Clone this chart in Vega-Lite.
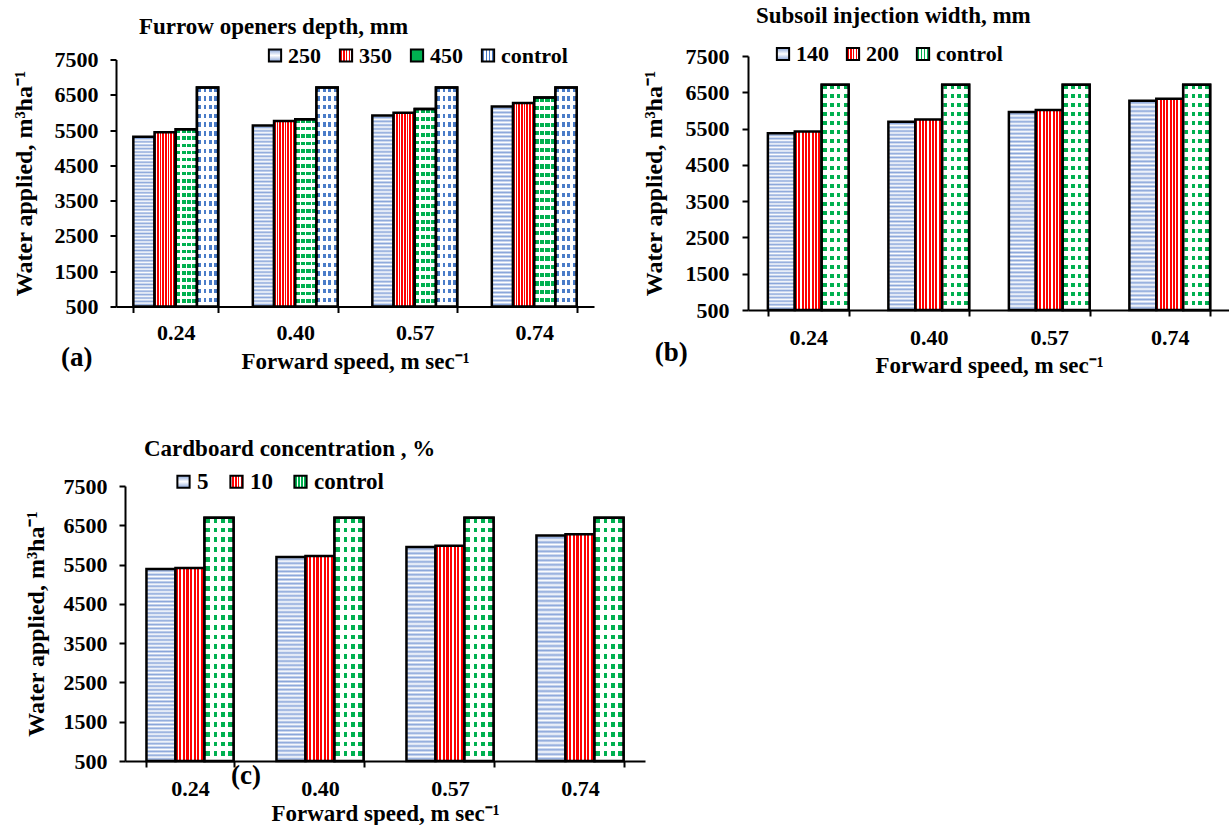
{
  "$schema": "https://vega.github.io/schema/vega-lite/v6.json",
  "background": "white",
  "padding": {"left": 12, "top": 5, "right": 0, "bottom": 0},
  "bounds": "flush",
  "spacing": 430,
  "resolve": {"scale": {"x": "independent", "y": "independent", "xOffset": "independent", "fill": "independent"}, "legend": {"fill": "independent"}},
  "config": {
    "font": "Liberation Serif",
    "view": {"stroke": null},
    "axis": {"labelFont": "Liberation Serif", "labelFontWeight": "bold", "labelColor": "black", "titleFont": "Liberation Serif", "titleFontWeight": "bold", "titleColor": "black", "domainColor": "black", "domainWidth": 2, "tickColor": "black", "tickWidth": 2, "tickSize": 6, "grid": false},
    "legend": {"labelFont": "Liberation Serif", "labelFontWeight": "bold", "labelColor": "black", "labelFontSize": 22, "symbolType": "square", "symbolSize": 150, "symbolStrokeColor": "black", "symbolStrokeWidth": 2, "labelOffset": 2, "direction": "horizontal", "orient": "none"},
    "title": {"font": "Liberation Serif", "fontWeight": "bold", "fontSize": 23, "color": "black", "anchor": "start", "frame": "group"}
  },
  "vconcat": [
    {
      "bounds": "flush",
      "spacing": 154,
      "center": true,
      "resolve": {"scale": {"x": "independent", "y": "independent", "xOffset": "independent", "fill": "independent"}, "legend": {"fill": "independent"}},
      "hconcat": [
        {
          "width": 478,
          "height": 247,
          "title": {"text": "Furrow openers depth, mm", "dx": 23, "offset": 6},
          "data": {"values": [
            {"speed": "0.24", "s": "250", "v": 5310}, {"speed": "0.24", "s": "350", "v": 5440}, {"speed": "0.24", "s": "450", "v": 5520}, {"speed": "0.24", "s": "control", "v": 6710},
            {"speed": "0.40", "s": "250", "v": 5630}, {"speed": "0.40", "s": "350", "v": 5760}, {"speed": "0.40", "s": "450", "v": 5810}, {"speed": "0.40", "s": "control", "v": 6710},
            {"speed": "0.57", "s": "250", "v": 5910}, {"speed": "0.57", "s": "350", "v": 5990}, {"speed": "0.57", "s": "450", "v": 6100}, {"speed": "0.57", "s": "control", "v": 6710},
            {"speed": "0.74", "s": "250", "v": 6170}, {"speed": "0.74", "s": "350", "v": 6270}, {"speed": "0.74", "s": "450", "v": 6420}, {"speed": "0.74", "s": "control", "v": 6710}
          ]},
          "encoding": {
            "x": {"field": "speed", "type": "nominal", "scale": {"paddingInner": 0.29, "paddingOuter": 0.145}, "axis": {"title": "Forward speed, m sec⁻¹", "labelAngle": 0, "labelFont": "Liberation Serif", "labelFontSize": 22, "labelPadding": 10, "titleFont": "Liberation Serif", "titleFontSize": 23, "titlePadding": 7, "tickBand": "extent"}},
            "y": {"field": "v", "type": "quantitative", "scale": {"domain": [500, 7500], "nice": false, "zero": false}, "axis": {"title": "Water applied, m³ha⁻¹", "format": "d", "values": [500, 1500, 2500, 3500, 4500, 5500, 6500, 7500], "labelFont": "Liberation Serif", "labelFontSize": 22, "labelPadding": 12, "titleFont": "Liberation Serif", "titleFontSize": 24, "titlePadding": 18}}
          },
          "layer": [
            {
              "mark": {"type": "bar", "stroke": "black", "strokeWidth": 2.5},
              "encoding": {
                "xOffset": {"field": "s", "type": "nominal", "scale": {"domain": ["250", "350", "450", "control"], "paddingInner": 0, "paddingOuter": 0}},
                "y2": {"datum": 500},
                "fill": {"field": "s", "type": "nominal", "scale": {"domain": ["250", "350", "450", "control"], "range": [
                  {"expr": "{gradient:'linear',x1:0,y1:0,x2:0,y2:1,stops:[{offset:0,color:'#fff'},{offset:0.01,color:'#8aa6da'},{offset:0.02,color:'#fff'},{offset:0.03,color:'#8aa6da'},{offset:0.04,color:'#fff'},{offset:0.05,color:'#8aa6da'},{offset:0.06,color:'#fff'},{offset:0.07,color:'#8aa6da'},{offset:0.08,color:'#fff'},{offset:0.09,color:'#8aa6da'},{offset:0.1,color:'#fff'},{offset:0.11,color:'#8aa6da'},{offset:0.12,color:'#fff'},{offset:0.13,color:'#8aa6da'},{offset:0.14,color:'#fff'},{offset:0.15,color:'#8aa6da'},{offset:0.16,color:'#fff'},{offset:0.17,color:'#8aa6da'},{offset:0.18,color:'#fff'},{offset:0.19,color:'#8aa6da'},{offset:0.2,color:'#fff'},{offset:0.21,color:'#8aa6da'},{offset:0.22,color:'#fff'},{offset:0.23,color:'#8aa6da'},{offset:0.24,color:'#fff'},{offset:0.25,color:'#8aa6da'},{offset:0.26,color:'#fff'},{offset:0.27,color:'#8aa6da'},{offset:0.28,color:'#fff'},{offset:0.29,color:'#8aa6da'},{offset:0.3,color:'#fff'},{offset:0.31,color:'#8aa6da'},{offset:0.32,color:'#fff'},{offset:0.33,color:'#8aa6da'},{offset:0.34,color:'#fff'},{offset:0.35,color:'#8aa6da'},{offset:0.36,color:'#fff'},{offset:0.37,color:'#8aa6da'},{offset:0.38,color:'#fff'},{offset:0.39,color:'#8aa6da'},{offset:0.4,color:'#fff'},{offset:0.41,color:'#8aa6da'},{offset:0.42,color:'#fff'},{offset:0.43,color:'#8aa6da'},{offset:0.44,color:'#fff'},{offset:0.45,color:'#8aa6da'},{offset:0.46,color:'#fff'},{offset:0.47,color:'#8aa6da'},{offset:0.48,color:'#fff'},{offset:0.49,color:'#8aa6da'},{offset:0.5,color:'#fff'},{offset:0.51,color:'#8aa6da'},{offset:0.52,color:'#fff'},{offset:0.53,color:'#8aa6da'},{offset:0.54,color:'#fff'},{offset:0.55,color:'#8aa6da'},{offset:0.56,color:'#fff'},{offset:0.57,color:'#8aa6da'},{offset:0.58,color:'#fff'},{offset:0.59,color:'#8aa6da'},{offset:0.6,color:'#fff'},{offset:0.61,color:'#8aa6da'},{offset:0.62,color:'#fff'},{offset:0.63,color:'#8aa6da'},{offset:0.64,color:'#fff'},{offset:0.65,color:'#8aa6da'},{offset:0.66,color:'#fff'},{offset:0.67,color:'#8aa6da'},{offset:0.68,color:'#fff'},{offset:0.69,color:'#8aa6da'},{offset:0.7,color:'#fff'},{offset:0.71,color:'#8aa6da'},{offset:0.72,color:'#fff'},{offset:0.73,color:'#8aa6da'},{offset:0.74,color:'#fff'},{offset:0.75,color:'#8aa6da'},{offset:0.76,color:'#fff'},{offset:0.77,color:'#8aa6da'},{offset:0.78,color:'#fff'},{offset:0.79,color:'#8aa6da'},{offset:0.8,color:'#fff'},{offset:0.81,color:'#8aa6da'},{offset:0.82,color:'#fff'},{offset:0.83,color:'#8aa6da'},{offset:0.84,color:'#fff'},{offset:0.85,color:'#8aa6da'},{offset:0.86,color:'#fff'},{offset:0.87,color:'#8aa6da'},{offset:0.88,color:'#fff'},{offset:0.89,color:'#8aa6da'},{offset:0.9,color:'#fff'},{offset:0.91,color:'#8aa6da'},{offset:0.92,color:'#fff'},{offset:0.93,color:'#8aa6da'},{offset:0.94,color:'#fff'},{offset:0.95,color:'#8aa6da'},{offset:0.96,color:'#fff'},{offset:0.97,color:'#8aa6da'},{offset:0.98,color:'#fff'},{offset:0.99,color:'#8aa6da'},{offset:1,color:'#fff'}]}"},
                  {"expr": "{gradient:'linear',x1:0,y1:0,x2:1,y2:0,stops:[{offset:0,color:'#f00'},{offset:0.075,color:'#f00'},{offset:0.075,color:'#fff'},{offset:0.125,color:'#fff'},{offset:0.125,color:'#f00'},{offset:0.2,color:'#f00'},{offset:0.2,color:'#fff'},{offset:0.25,color:'#fff'},{offset:0.25,color:'#f00'},{offset:0.325,color:'#f00'},{offset:0.325,color:'#fff'},{offset:0.375,color:'#fff'},{offset:0.375,color:'#f00'},{offset:0.45,color:'#f00'},{offset:0.45,color:'#fff'},{offset:0.5,color:'#fff'},{offset:0.5,color:'#f00'},{offset:0.575,color:'#f00'},{offset:0.575,color:'#fff'},{offset:0.625,color:'#fff'},{offset:0.625,color:'#f00'},{offset:0.7,color:'#f00'},{offset:0.7,color:'#fff'},{offset:0.75,color:'#fff'},{offset:0.75,color:'#f00'},{offset:0.825,color:'#f00'},{offset:0.825,color:'#fff'},{offset:0.875,color:'#fff'},{offset:0.875,color:'#f00'},{offset:0.95,color:'#f00'},{offset:0.95,color:'#fff'},{offset:1,color:'#fff'}]}"},
                  {"expr": "{gradient:'linear',x1:0,y1:0,x2:1,y2:0,stops:[{offset:0,color:'#fff'},{offset:0.03,color:'#fff'},{offset:0.03,color:'#00b050'},{offset:0.22,color:'#00b050'},{offset:0.22,color:'#fff'},{offset:0.28,color:'#fff'},{offset:0.28,color:'#00b050'},{offset:0.47,color:'#00b050'},{offset:0.47,color:'#fff'},{offset:0.53,color:'#fff'},{offset:0.53,color:'#00b050'},{offset:0.72,color:'#00b050'},{offset:0.72,color:'#fff'},{offset:0.78,color:'#fff'},{offset:0.78,color:'#00b050'},{offset:0.97,color:'#00b050'},{offset:0.97,color:'#fff'},{offset:1,color:'#fff'}]}"},
                  {"expr": "{gradient:'linear',x1:0,y1:0,x2:1,y2:0,stops:[{offset:0,color:'#fff'},{offset:0.06,color:'#fff'},{offset:0.06,color:'#4a7cc8'},{offset:0.19,color:'#4a7cc8'},{offset:0.19,color:'#fff'},{offset:0.31,color:'#fff'},{offset:0.31,color:'#4a7cc8'},{offset:0.44,color:'#4a7cc8'},{offset:0.44,color:'#fff'},{offset:0.56,color:'#fff'},{offset:0.56,color:'#4a7cc8'},{offset:0.69,color:'#4a7cc8'},{offset:0.69,color:'#fff'},{offset:0.81,color:'#fff'},{offset:0.81,color:'#4a7cc8'},{offset:0.94,color:'#4a7cc8'},{offset:0.94,color:'#fff'},{offset:1,color:'#fff'}]}"}
                ]}, "legend": {"title": null, "legendX": 148, "legendY": -15, "columnPadding": 14, "labelFont": "Liberation Serif", "labelFontSize": 22}}
              }
            },
            {
              "transform": [{"filter": "datum.s === 'control' || datum.s === '450'"}],
              "mark": {"type": "bar", "stroke": "black", "strokeWidth": 2.5, "fill": {"gradient": "linear", "x1": 0, "y1": 0, "x2": 0, "y2": 1, "stops": [
                {"offset": 0, "color": "rgba(255,255,255,0)"}, {"offset": 0.02, "color": "rgba(255,255,255,0)"}, {"offset": 0.02, "color": "#fff"}, {"offset": 0.04, "color": "#fff"},
                {"offset": 0.04, "color": "rgba(255,255,255,0)"}, {"offset": 0.06, "color": "rgba(255,255,255,0)"}, {"offset": 0.06, "color": "#fff"}, {"offset": 0.08, "color": "#fff"},
                {"offset": 0.08, "color": "rgba(255,255,255,0)"}, {"offset": 0.1, "color": "rgba(255,255,255,0)"}, {"offset": 0.1, "color": "#fff"}, {"offset": 0.12, "color": "#fff"},
                {"offset": 0.12, "color": "rgba(255,255,255,0)"}, {"offset": 0.14, "color": "rgba(255,255,255,0)"}, {"offset": 0.14, "color": "#fff"}, {"offset": 0.16, "color": "#fff"},
                {"offset": 0.16, "color": "rgba(255,255,255,0)"}, {"offset": 0.18, "color": "rgba(255,255,255,0)"}, {"offset": 0.18, "color": "#fff"}, {"offset": 0.2, "color": "#fff"},
                {"offset": 0.2, "color": "rgba(255,255,255,0)"}, {"offset": 0.22, "color": "rgba(255,255,255,0)"}, {"offset": 0.22, "color": "#fff"}, {"offset": 0.24, "color": "#fff"},
                {"offset": 0.24, "color": "rgba(255,255,255,0)"}, {"offset": 0.26, "color": "rgba(255,255,255,0)"}, {"offset": 0.26, "color": "#fff"}, {"offset": 0.28, "color": "#fff"},
                {"offset": 0.28, "color": "rgba(255,255,255,0)"}, {"offset": 0.3, "color": "rgba(255,255,255,0)"}, {"offset": 0.3, "color": "#fff"}, {"offset": 0.32, "color": "#fff"},
                {"offset": 0.32, "color": "rgba(255,255,255,0)"}, {"offset": 0.34, "color": "rgba(255,255,255,0)"}, {"offset": 0.34, "color": "#fff"}, {"offset": 0.36, "color": "#fff"},
                {"offset": 0.36, "color": "rgba(255,255,255,0)"}, {"offset": 0.38, "color": "rgba(255,255,255,0)"}, {"offset": 0.38, "color": "#fff"}, {"offset": 0.4, "color": "#fff"},
                {"offset": 0.4, "color": "rgba(255,255,255,0)"}, {"offset": 0.42, "color": "rgba(255,255,255,0)"}, {"offset": 0.42, "color": "#fff"}, {"offset": 0.44, "color": "#fff"},
                {"offset": 0.44, "color": "rgba(255,255,255,0)"}, {"offset": 0.46, "color": "rgba(255,255,255,0)"}, {"offset": 0.46, "color": "#fff"}, {"offset": 0.48, "color": "#fff"},
                {"offset": 0.48, "color": "rgba(255,255,255,0)"}, {"offset": 0.5, "color": "rgba(255,255,255,0)"}, {"offset": 0.5, "color": "#fff"}, {"offset": 0.52, "color": "#fff"},
                {"offset": 0.52, "color": "rgba(255,255,255,0)"}, {"offset": 0.54, "color": "rgba(255,255,255,0)"}, {"offset": 0.54, "color": "#fff"}, {"offset": 0.56, "color": "#fff"},
                {"offset": 0.56, "color": "rgba(255,255,255,0)"}, {"offset": 0.58, "color": "rgba(255,255,255,0)"}, {"offset": 0.58, "color": "#fff"}, {"offset": 0.6, "color": "#fff"},
                {"offset": 0.6, "color": "rgba(255,255,255,0)"}, {"offset": 0.62, "color": "rgba(255,255,255,0)"}, {"offset": 0.62, "color": "#fff"}, {"offset": 0.64, "color": "#fff"},
                {"offset": 0.64, "color": "rgba(255,255,255,0)"}, {"offset": 0.66, "color": "rgba(255,255,255,0)"}, {"offset": 0.66, "color": "#fff"}, {"offset": 0.68, "color": "#fff"},
                {"offset": 0.68, "color": "rgba(255,255,255,0)"}, {"offset": 0.7, "color": "rgba(255,255,255,0)"}, {"offset": 0.7, "color": "#fff"}, {"offset": 0.72, "color": "#fff"},
                {"offset": 0.72, "color": "rgba(255,255,255,0)"}, {"offset": 0.74, "color": "rgba(255,255,255,0)"}, {"offset": 0.74, "color": "#fff"}, {"offset": 0.76, "color": "#fff"},
                {"offset": 0.76, "color": "rgba(255,255,255,0)"}, {"offset": 0.78, "color": "rgba(255,255,255,0)"}, {"offset": 0.78, "color": "#fff"}, {"offset": 0.8, "color": "#fff"},
                {"offset": 0.8, "color": "rgba(255,255,255,0)"}, {"offset": 0.82, "color": "rgba(255,255,255,0)"}, {"offset": 0.82, "color": "#fff"}, {"offset": 0.84, "color": "#fff"},
                {"offset": 0.84, "color": "rgba(255,255,255,0)"}, {"offset": 0.86, "color": "rgba(255,255,255,0)"}, {"offset": 0.86, "color": "#fff"}, {"offset": 0.88, "color": "#fff"},
                {"offset": 0.88, "color": "rgba(255,255,255,0)"}, {"offset": 0.9, "color": "rgba(255,255,255,0)"}, {"offset": 0.9, "color": "#fff"}, {"offset": 0.92, "color": "#fff"},
                {"offset": 0.92, "color": "rgba(255,255,255,0)"}, {"offset": 0.94, "color": "rgba(255,255,255,0)"}, {"offset": 0.94, "color": "#fff"}, {"offset": 0.96, "color": "#fff"},
                {"offset": 0.96, "color": "rgba(255,255,255,0)"}, {"offset": 0.98, "color": "rgba(255,255,255,0)"}, {"offset": 0.98, "color": "#fff"}, {"offset": 1, "color": "#fff"}
              ]}},
              "encoding": {
                "xOffset": {"field": "s", "type": "nominal", "scale": {"domain": ["250", "350", "450", "control"], "paddingInner": 0, "paddingOuter": 0}},
                "y2": {"datum": 500}
              }
            },
            {
              "data": {"values": [{"tag": "(a)", "speed": "0.24", "v": 500}]},
              "mark": {"type": "text", "fontSize": 27, "fontWeight": "bold", "font": "Liberation Serif", "color": "black", "dx": -99, "dy": 51, "baseline": "middle", "align": "center"},
              "encoding": {"text": {"field": "tag"}}
            }
          ]
        },
        {
          "width": 482,
          "height": 254,
          "title": {"text": "Subsoil injection width, mm", "dx": 8, "offset": 15},
          "data": {"values": [
            {"speed": "0.24", "s": "140", "v": 5370}, {"speed": "0.24", "s": "200", "v": 5420}, {"speed": "0.24", "s": "control", "v": 6710},
            {"speed": "0.40", "s": "140", "v": 5690}, {"speed": "0.40", "s": "200", "v": 5750}, {"speed": "0.40", "s": "control", "v": 6710},
            {"speed": "0.57", "s": "140", "v": 5960}, {"speed": "0.57", "s": "200", "v": 6010}, {"speed": "0.57", "s": "control", "v": 6710},
            {"speed": "0.74", "s": "140", "v": 6270}, {"speed": "0.74", "s": "200", "v": 6320}, {"speed": "0.74", "s": "control", "v": 6710}
          ]},
          "encoding": {
            "x": {"field": "speed", "type": "nominal", "scale": {"paddingInner": 0.33, "paddingOuter": 0.165}, "axis": {"title": "Forward speed, m sec⁻¹", "labelAngle": 0, "labelFont": "Liberation Serif", "labelFontSize": 22, "labelPadding": 11, "titleFont": "Liberation Serif", "titleFontSize": 23, "titlePadding": 6, "tickBand": "extent"}},
            "y": {"field": "v", "type": "quantitative", "scale": {"domain": [500, 7500], "nice": false, "zero": false}, "axis": {"title": "Water applied, m³ha⁻¹", "format": "d", "values": [500, 1500, 2500, 3500, 4500, 5500, 6500, 7500], "labelFont": "Liberation Serif", "labelFontSize": 22, "labelPadding": 13, "titleFont": "Liberation Serif", "titleFontSize": 24, "titlePadding": 19}}
          },
          "layer": [
            {
              "mark": {"type": "bar", "stroke": "black", "strokeWidth": 2.5},
              "encoding": {
                "xOffset": {"field": "s", "type": "nominal", "scale": {"domain": ["140", "200", "control"], "paddingInner": 0, "paddingOuter": 0}},
                "y2": {"datum": 500},
                "fill": {"field": "s", "type": "nominal", "scale": {"domain": ["140", "200", "control"], "range": [
                  {"expr": "{gradient:'linear',x1:0,y1:0,x2:0,y2:1,stops:[{offset:0,color:'#fff'},{offset:0.01,color:'#8aa6da'},{offset:0.02,color:'#fff'},{offset:0.03,color:'#8aa6da'},{offset:0.04,color:'#fff'},{offset:0.05,color:'#8aa6da'},{offset:0.06,color:'#fff'},{offset:0.07,color:'#8aa6da'},{offset:0.08,color:'#fff'},{offset:0.09,color:'#8aa6da'},{offset:0.1,color:'#fff'},{offset:0.11,color:'#8aa6da'},{offset:0.12,color:'#fff'},{offset:0.13,color:'#8aa6da'},{offset:0.14,color:'#fff'},{offset:0.15,color:'#8aa6da'},{offset:0.16,color:'#fff'},{offset:0.17,color:'#8aa6da'},{offset:0.18,color:'#fff'},{offset:0.19,color:'#8aa6da'},{offset:0.2,color:'#fff'},{offset:0.21,color:'#8aa6da'},{offset:0.22,color:'#fff'},{offset:0.23,color:'#8aa6da'},{offset:0.24,color:'#fff'},{offset:0.25,color:'#8aa6da'},{offset:0.26,color:'#fff'},{offset:0.27,color:'#8aa6da'},{offset:0.28,color:'#fff'},{offset:0.29,color:'#8aa6da'},{offset:0.3,color:'#fff'},{offset:0.31,color:'#8aa6da'},{offset:0.32,color:'#fff'},{offset:0.33,color:'#8aa6da'},{offset:0.34,color:'#fff'},{offset:0.35,color:'#8aa6da'},{offset:0.36,color:'#fff'},{offset:0.37,color:'#8aa6da'},{offset:0.38,color:'#fff'},{offset:0.39,color:'#8aa6da'},{offset:0.4,color:'#fff'},{offset:0.41,color:'#8aa6da'},{offset:0.42,color:'#fff'},{offset:0.43,color:'#8aa6da'},{offset:0.44,color:'#fff'},{offset:0.45,color:'#8aa6da'},{offset:0.46,color:'#fff'},{offset:0.47,color:'#8aa6da'},{offset:0.48,color:'#fff'},{offset:0.49,color:'#8aa6da'},{offset:0.5,color:'#fff'},{offset:0.51,color:'#8aa6da'},{offset:0.52,color:'#fff'},{offset:0.53,color:'#8aa6da'},{offset:0.54,color:'#fff'},{offset:0.55,color:'#8aa6da'},{offset:0.56,color:'#fff'},{offset:0.57,color:'#8aa6da'},{offset:0.58,color:'#fff'},{offset:0.59,color:'#8aa6da'},{offset:0.6,color:'#fff'},{offset:0.61,color:'#8aa6da'},{offset:0.62,color:'#fff'},{offset:0.63,color:'#8aa6da'},{offset:0.64,color:'#fff'},{offset:0.65,color:'#8aa6da'},{offset:0.66,color:'#fff'},{offset:0.67,color:'#8aa6da'},{offset:0.68,color:'#fff'},{offset:0.69,color:'#8aa6da'},{offset:0.7,color:'#fff'},{offset:0.71,color:'#8aa6da'},{offset:0.72,color:'#fff'},{offset:0.73,color:'#8aa6da'},{offset:0.74,color:'#fff'},{offset:0.75,color:'#8aa6da'},{offset:0.76,color:'#fff'},{offset:0.77,color:'#8aa6da'},{offset:0.78,color:'#fff'},{offset:0.79,color:'#8aa6da'},{offset:0.8,color:'#fff'},{offset:0.81,color:'#8aa6da'},{offset:0.82,color:'#fff'},{offset:0.83,color:'#8aa6da'},{offset:0.84,color:'#fff'},{offset:0.85,color:'#8aa6da'},{offset:0.86,color:'#fff'},{offset:0.87,color:'#8aa6da'},{offset:0.88,color:'#fff'},{offset:0.89,color:'#8aa6da'},{offset:0.9,color:'#fff'},{offset:0.91,color:'#8aa6da'},{offset:0.92,color:'#fff'},{offset:0.93,color:'#8aa6da'},{offset:0.94,color:'#fff'},{offset:0.95,color:'#8aa6da'},{offset:0.96,color:'#fff'},{offset:0.97,color:'#8aa6da'},{offset:0.98,color:'#fff'},{offset:0.99,color:'#8aa6da'},{offset:1,color:'#fff'}]}"},
                  {"expr": "{gradient:'linear',x1:0,y1:0,x2:1,y2:0,stops:[{offset:0,color:'#f00'},{offset:0.075,color:'#f00'},{offset:0.075,color:'#fff'},{offset:0.125,color:'#fff'},{offset:0.125,color:'#f00'},{offset:0.2,color:'#f00'},{offset:0.2,color:'#fff'},{offset:0.25,color:'#fff'},{offset:0.25,color:'#f00'},{offset:0.325,color:'#f00'},{offset:0.325,color:'#fff'},{offset:0.375,color:'#fff'},{offset:0.375,color:'#f00'},{offset:0.45,color:'#f00'},{offset:0.45,color:'#fff'},{offset:0.5,color:'#fff'},{offset:0.5,color:'#f00'},{offset:0.575,color:'#f00'},{offset:0.575,color:'#fff'},{offset:0.625,color:'#fff'},{offset:0.625,color:'#f00'},{offset:0.7,color:'#f00'},{offset:0.7,color:'#fff'},{offset:0.75,color:'#fff'},{offset:0.75,color:'#f00'},{offset:0.825,color:'#f00'},{offset:0.825,color:'#fff'},{offset:0.875,color:'#fff'},{offset:0.875,color:'#f00'},{offset:0.95,color:'#f00'},{offset:0.95,color:'#fff'},{offset:1,color:'#fff'}]}"},
                  {"expr": "{gradient:'linear',x1:0,y1:0,x2:1,y2:0,stops:[{offset:0,color:'#fff'},{offset:0.06,color:'#fff'},{offset:0.06,color:'#00b050'},{offset:0.19,color:'#00b050'},{offset:0.19,color:'#fff'},{offset:0.31,color:'#fff'},{offset:0.31,color:'#00b050'},{offset:0.44,color:'#00b050'},{offset:0.44,color:'#fff'},{offset:0.56,color:'#fff'},{offset:0.56,color:'#00b050'},{offset:0.69,color:'#00b050'},{offset:0.69,color:'#fff'},{offset:0.81,color:'#fff'},{offset:0.81,color:'#00b050'},{offset:0.94,color:'#00b050'},{offset:0.94,color:'#fff'},{offset:1,color:'#fff'}]}"}
                ]}, "legend": {"title": null, "legendX": 24, "legendY": -13, "columnPadding": 13, "labelFont": "Liberation Serif", "labelFontSize": 22}}
              }
            },
            {
              "transform": [{"filter": "datum.s === 'control'"}],
              "mark": {"type": "bar", "stroke": "black", "strokeWidth": 2.5, "fill": {"gradient": "linear", "x1": 0, "y1": 0, "x2": 0, "y2": 1, "stops": [
                {"offset": 0, "color": "rgba(255,255,255,0)"}, {"offset": 0.02, "color": "rgba(255,255,255,0)"}, {"offset": 0.02, "color": "#fff"}, {"offset": 0.04, "color": "#fff"},
                {"offset": 0.04, "color": "rgba(255,255,255,0)"}, {"offset": 0.06, "color": "rgba(255,255,255,0)"}, {"offset": 0.06, "color": "#fff"}, {"offset": 0.08, "color": "#fff"},
                {"offset": 0.08, "color": "rgba(255,255,255,0)"}, {"offset": 0.1, "color": "rgba(255,255,255,0)"}, {"offset": 0.1, "color": "#fff"}, {"offset": 0.12, "color": "#fff"},
                {"offset": 0.12, "color": "rgba(255,255,255,0)"}, {"offset": 0.14, "color": "rgba(255,255,255,0)"}, {"offset": 0.14, "color": "#fff"}, {"offset": 0.16, "color": "#fff"},
                {"offset": 0.16, "color": "rgba(255,255,255,0)"}, {"offset": 0.18, "color": "rgba(255,255,255,0)"}, {"offset": 0.18, "color": "#fff"}, {"offset": 0.2, "color": "#fff"},
                {"offset": 0.2, "color": "rgba(255,255,255,0)"}, {"offset": 0.22, "color": "rgba(255,255,255,0)"}, {"offset": 0.22, "color": "#fff"}, {"offset": 0.24, "color": "#fff"},
                {"offset": 0.24, "color": "rgba(255,255,255,0)"}, {"offset": 0.26, "color": "rgba(255,255,255,0)"}, {"offset": 0.26, "color": "#fff"}, {"offset": 0.28, "color": "#fff"},
                {"offset": 0.28, "color": "rgba(255,255,255,0)"}, {"offset": 0.3, "color": "rgba(255,255,255,0)"}, {"offset": 0.3, "color": "#fff"}, {"offset": 0.32, "color": "#fff"},
                {"offset": 0.32, "color": "rgba(255,255,255,0)"}, {"offset": 0.34, "color": "rgba(255,255,255,0)"}, {"offset": 0.34, "color": "#fff"}, {"offset": 0.36, "color": "#fff"},
                {"offset": 0.36, "color": "rgba(255,255,255,0)"}, {"offset": 0.38, "color": "rgba(255,255,255,0)"}, {"offset": 0.38, "color": "#fff"}, {"offset": 0.4, "color": "#fff"},
                {"offset": 0.4, "color": "rgba(255,255,255,0)"}, {"offset": 0.42, "color": "rgba(255,255,255,0)"}, {"offset": 0.42, "color": "#fff"}, {"offset": 0.44, "color": "#fff"},
                {"offset": 0.44, "color": "rgba(255,255,255,0)"}, {"offset": 0.46, "color": "rgba(255,255,255,0)"}, {"offset": 0.46, "color": "#fff"}, {"offset": 0.48, "color": "#fff"},
                {"offset": 0.48, "color": "rgba(255,255,255,0)"}, {"offset": 0.5, "color": "rgba(255,255,255,0)"}, {"offset": 0.5, "color": "#fff"}, {"offset": 0.52, "color": "#fff"},
                {"offset": 0.52, "color": "rgba(255,255,255,0)"}, {"offset": 0.54, "color": "rgba(255,255,255,0)"}, {"offset": 0.54, "color": "#fff"}, {"offset": 0.56, "color": "#fff"},
                {"offset": 0.56, "color": "rgba(255,255,255,0)"}, {"offset": 0.58, "color": "rgba(255,255,255,0)"}, {"offset": 0.58, "color": "#fff"}, {"offset": 0.6, "color": "#fff"},
                {"offset": 0.6, "color": "rgba(255,255,255,0)"}, {"offset": 0.62, "color": "rgba(255,255,255,0)"}, {"offset": 0.62, "color": "#fff"}, {"offset": 0.64, "color": "#fff"},
                {"offset": 0.64, "color": "rgba(255,255,255,0)"}, {"offset": 0.66, "color": "rgba(255,255,255,0)"}, {"offset": 0.66, "color": "#fff"}, {"offset": 0.68, "color": "#fff"},
                {"offset": 0.68, "color": "rgba(255,255,255,0)"}, {"offset": 0.7, "color": "rgba(255,255,255,0)"}, {"offset": 0.7, "color": "#fff"}, {"offset": 0.72, "color": "#fff"},
                {"offset": 0.72, "color": "rgba(255,255,255,0)"}, {"offset": 0.74, "color": "rgba(255,255,255,0)"}, {"offset": 0.74, "color": "#fff"}, {"offset": 0.76, "color": "#fff"},
                {"offset": 0.76, "color": "rgba(255,255,255,0)"}, {"offset": 0.78, "color": "rgba(255,255,255,0)"}, {"offset": 0.78, "color": "#fff"}, {"offset": 0.8, "color": "#fff"},
                {"offset": 0.8, "color": "rgba(255,255,255,0)"}, {"offset": 0.82, "color": "rgba(255,255,255,0)"}, {"offset": 0.82, "color": "#fff"}, {"offset": 0.84, "color": "#fff"},
                {"offset": 0.84, "color": "rgba(255,255,255,0)"}, {"offset": 0.86, "color": "rgba(255,255,255,0)"}, {"offset": 0.86, "color": "#fff"}, {"offset": 0.88, "color": "#fff"},
                {"offset": 0.88, "color": "rgba(255,255,255,0)"}, {"offset": 0.9, "color": "rgba(255,255,255,0)"}, {"offset": 0.9, "color": "#fff"}, {"offset": 0.92, "color": "#fff"},
                {"offset": 0.92, "color": "rgba(255,255,255,0)"}, {"offset": 0.94, "color": "rgba(255,255,255,0)"}, {"offset": 0.94, "color": "#fff"}, {"offset": 0.96, "color": "#fff"},
                {"offset": 0.96, "color": "rgba(255,255,255,0)"}, {"offset": 0.98, "color": "rgba(255,255,255,0)"}, {"offset": 0.98, "color": "#fff"}, {"offset": 1, "color": "#fff"}
              ]}},
              "encoding": {
                "xOffset": {"field": "s", "type": "nominal", "scale": {"domain": ["140", "200", "control"], "paddingInner": 0, "paddingOuter": 0}},
                "y2": {"datum": 500}
              }
            },
            {
              "data": {"values": [{"tag": "(b)", "speed": "0.24", "v": 500}]},
              "mark": {"type": "text", "fontSize": 27, "fontWeight": "bold", "font": "Liberation Serif", "color": "black", "dx": -137, "dy": 43, "baseline": "middle", "align": "center"},
              "encoding": {"text": {"field": "tag"}}
            }
          ]
        }
      ]
    },
    {
      "width": 529,
      "height": 275,
      "title": {"text": "Cardboard concentration , %", "dx": 28, "offset": 9},
      "data": {"values": [
        {"speed": "0.24", "s": "5", "v": 5390}, {"speed": "0.24", "s": "10", "v": 5410}, {"speed": "0.24", "s": "control", "v": 6690},
        {"speed": "0.40", "s": "5", "v": 5690}, {"speed": "0.40", "s": "10", "v": 5720}, {"speed": "0.40", "s": "control", "v": 6690},
        {"speed": "0.57", "s": "5", "v": 5950}, {"speed": "0.57", "s": "10", "v": 5980}, {"speed": "0.57", "s": "control", "v": 6690},
        {"speed": "0.74", "s": "5", "v": 6240}, {"speed": "0.74", "s": "10", "v": 6270}, {"speed": "0.74", "s": "control", "v": 6690}
      ]},
      "encoding": {
        "x": {"field": "speed", "type": "nominal", "scale": {"range": [9, 529], "paddingInner": 0.33, "paddingOuter": 0.165}, "axis": {"title": "Forward speed, m sec⁻¹", "labelAngle": 0, "labelFont": "Liberation Serif", "labelFontSize": 22, "labelPadding": 11, "titleFont": "Liberation Serif", "titleFontSize": 23, "titlePadding": 3, "tickBand": "extent"}},
        "y": {"field": "v", "type": "quantitative", "scale": {"domain": [500, 7500], "nice": false, "zero": false}, "axis": {"title": "Water applied, m³ha⁻¹", "offset": -9, "format": "d", "values": [500, 1500, 2500, 3500, 4500, 5500, 6500, 7500], "labelFont": "Liberation Serif", "labelFontSize": 22, "labelPadding": 12, "titleFont": "Liberation Serif", "titleFontSize": 24, "titlePadding": 15}}
      },
      "layer": [
        {
          "mark": {"type": "bar", "stroke": "black", "strokeWidth": 2.5},
          "encoding": {
            "xOffset": {"field": "s", "type": "nominal", "scale": {"domain": ["5", "10", "control"], "paddingInner": 0, "paddingOuter": 0}},
            "y2": {"datum": 500},
            "fill": {"field": "s", "type": "nominal", "scale": {"domain": ["5", "10", "control"], "range": [
              {"expr": "{gradient:'linear',x1:0,y1:0,x2:0,y2:1,stops:[{offset:0,color:'#fff'},{offset:0.01,color:'#8aa6da'},{offset:0.02,color:'#fff'},{offset:0.03,color:'#8aa6da'},{offset:0.04,color:'#fff'},{offset:0.05,color:'#8aa6da'},{offset:0.06,color:'#fff'},{offset:0.07,color:'#8aa6da'},{offset:0.08,color:'#fff'},{offset:0.09,color:'#8aa6da'},{offset:0.1,color:'#fff'},{offset:0.11,color:'#8aa6da'},{offset:0.12,color:'#fff'},{offset:0.13,color:'#8aa6da'},{offset:0.14,color:'#fff'},{offset:0.15,color:'#8aa6da'},{offset:0.16,color:'#fff'},{offset:0.17,color:'#8aa6da'},{offset:0.18,color:'#fff'},{offset:0.19,color:'#8aa6da'},{offset:0.2,color:'#fff'},{offset:0.21,color:'#8aa6da'},{offset:0.22,color:'#fff'},{offset:0.23,color:'#8aa6da'},{offset:0.24,color:'#fff'},{offset:0.25,color:'#8aa6da'},{offset:0.26,color:'#fff'},{offset:0.27,color:'#8aa6da'},{offset:0.28,color:'#fff'},{offset:0.29,color:'#8aa6da'},{offset:0.3,color:'#fff'},{offset:0.31,color:'#8aa6da'},{offset:0.32,color:'#fff'},{offset:0.33,color:'#8aa6da'},{offset:0.34,color:'#fff'},{offset:0.35,color:'#8aa6da'},{offset:0.36,color:'#fff'},{offset:0.37,color:'#8aa6da'},{offset:0.38,color:'#fff'},{offset:0.39,color:'#8aa6da'},{offset:0.4,color:'#fff'},{offset:0.41,color:'#8aa6da'},{offset:0.42,color:'#fff'},{offset:0.43,color:'#8aa6da'},{offset:0.44,color:'#fff'},{offset:0.45,color:'#8aa6da'},{offset:0.46,color:'#fff'},{offset:0.47,color:'#8aa6da'},{offset:0.48,color:'#fff'},{offset:0.49,color:'#8aa6da'},{offset:0.5,color:'#fff'},{offset:0.51,color:'#8aa6da'},{offset:0.52,color:'#fff'},{offset:0.53,color:'#8aa6da'},{offset:0.54,color:'#fff'},{offset:0.55,color:'#8aa6da'},{offset:0.56,color:'#fff'},{offset:0.57,color:'#8aa6da'},{offset:0.58,color:'#fff'},{offset:0.59,color:'#8aa6da'},{offset:0.6,color:'#fff'},{offset:0.61,color:'#8aa6da'},{offset:0.62,color:'#fff'},{offset:0.63,color:'#8aa6da'},{offset:0.64,color:'#fff'},{offset:0.65,color:'#8aa6da'},{offset:0.66,color:'#fff'},{offset:0.67,color:'#8aa6da'},{offset:0.68,color:'#fff'},{offset:0.69,color:'#8aa6da'},{offset:0.7,color:'#fff'},{offset:0.71,color:'#8aa6da'},{offset:0.72,color:'#fff'},{offset:0.73,color:'#8aa6da'},{offset:0.74,color:'#fff'},{offset:0.75,color:'#8aa6da'},{offset:0.76,color:'#fff'},{offset:0.77,color:'#8aa6da'},{offset:0.78,color:'#fff'},{offset:0.79,color:'#8aa6da'},{offset:0.8,color:'#fff'},{offset:0.81,color:'#8aa6da'},{offset:0.82,color:'#fff'},{offset:0.83,color:'#8aa6da'},{offset:0.84,color:'#fff'},{offset:0.85,color:'#8aa6da'},{offset:0.86,color:'#fff'},{offset:0.87,color:'#8aa6da'},{offset:0.88,color:'#fff'},{offset:0.89,color:'#8aa6da'},{offset:0.9,color:'#fff'},{offset:0.91,color:'#8aa6da'},{offset:0.92,color:'#fff'},{offset:0.93,color:'#8aa6da'},{offset:0.94,color:'#fff'},{offset:0.95,color:'#8aa6da'},{offset:0.96,color:'#fff'},{offset:0.97,color:'#8aa6da'},{offset:0.98,color:'#fff'},{offset:0.99,color:'#8aa6da'},{offset:1,color:'#fff'}]}"},
              {"expr": "{gradient:'linear',x1:0,y1:0,x2:1,y2:0,stops:[{offset:0,color:'#f00'},{offset:0.075,color:'#f00'},{offset:0.075,color:'#fff'},{offset:0.125,color:'#fff'},{offset:0.125,color:'#f00'},{offset:0.2,color:'#f00'},{offset:0.2,color:'#fff'},{offset:0.25,color:'#fff'},{offset:0.25,color:'#f00'},{offset:0.325,color:'#f00'},{offset:0.325,color:'#fff'},{offset:0.375,color:'#fff'},{offset:0.375,color:'#f00'},{offset:0.45,color:'#f00'},{offset:0.45,color:'#fff'},{offset:0.5,color:'#fff'},{offset:0.5,color:'#f00'},{offset:0.575,color:'#f00'},{offset:0.575,color:'#fff'},{offset:0.625,color:'#fff'},{offset:0.625,color:'#f00'},{offset:0.7,color:'#f00'},{offset:0.7,color:'#fff'},{offset:0.75,color:'#fff'},{offset:0.75,color:'#f00'},{offset:0.825,color:'#f00'},{offset:0.825,color:'#fff'},{offset:0.875,color:'#fff'},{offset:0.875,color:'#f00'},{offset:0.95,color:'#f00'},{offset:0.95,color:'#fff'},{offset:1,color:'#fff'}]}"},
              {"expr": "{gradient:'linear',x1:0,y1:0,x2:1,y2:0,stops:[{offset:0,color:'#fff'},{offset:0.06,color:'#fff'},{offset:0.06,color:'#00b050'},{offset:0.19,color:'#00b050'},{offset:0.19,color:'#fff'},{offset:0.31,color:'#fff'},{offset:0.31,color:'#00b050'},{offset:0.44,color:'#00b050'},{offset:0.44,color:'#fff'},{offset:0.56,color:'#fff'},{offset:0.56,color:'#00b050'},{offset:0.69,color:'#00b050'},{offset:0.69,color:'#fff'},{offset:0.81,color:'#fff'},{offset:0.81,color:'#00b050'},{offset:0.94,color:'#00b050'},{offset:0.94,color:'#fff'},{offset:1,color:'#fff'}]}"}
            ]}, "legend": {"title": null, "legendX": 56, "legendY": -16, "columnPadding": 16, "labelFont": "Liberation Serif", "labelFontSize": 23}}
          }
        },
        {
          "transform": [{"filter": "datum.s === 'control'"}],
          "mark": {"type": "bar", "stroke": "black", "strokeWidth": 2.5, "fill": {"gradient": "linear", "x1": 0, "y1": 0, "x2": 0, "y2": 1, "stops": [
            {"offset": 0, "color": "rgba(255,255,255,0)"}, {"offset": 0.02, "color": "rgba(255,255,255,0)"}, {"offset": 0.02, "color": "#fff"}, {"offset": 0.04, "color": "#fff"},
            {"offset": 0.04, "color": "rgba(255,255,255,0)"}, {"offset": 0.06, "color": "rgba(255,255,255,0)"}, {"offset": 0.06, "color": "#fff"}, {"offset": 0.08, "color": "#fff"},
            {"offset": 0.08, "color": "rgba(255,255,255,0)"}, {"offset": 0.1, "color": "rgba(255,255,255,0)"}, {"offset": 0.1, "color": "#fff"}, {"offset": 0.12, "color": "#fff"},
            {"offset": 0.12, "color": "rgba(255,255,255,0)"}, {"offset": 0.14, "color": "rgba(255,255,255,0)"}, {"offset": 0.14, "color": "#fff"}, {"offset": 0.16, "color": "#fff"},
            {"offset": 0.16, "color": "rgba(255,255,255,0)"}, {"offset": 0.18, "color": "rgba(255,255,255,0)"}, {"offset": 0.18, "color": "#fff"}, {"offset": 0.2, "color": "#fff"},
            {"offset": 0.2, "color": "rgba(255,255,255,0)"}, {"offset": 0.22, "color": "rgba(255,255,255,0)"}, {"offset": 0.22, "color": "#fff"}, {"offset": 0.24, "color": "#fff"},
            {"offset": 0.24, "color": "rgba(255,255,255,0)"}, {"offset": 0.26, "color": "rgba(255,255,255,0)"}, {"offset": 0.26, "color": "#fff"}, {"offset": 0.28, "color": "#fff"},
            {"offset": 0.28, "color": "rgba(255,255,255,0)"}, {"offset": 0.3, "color": "rgba(255,255,255,0)"}, {"offset": 0.3, "color": "#fff"}, {"offset": 0.32, "color": "#fff"},
            {"offset": 0.32, "color": "rgba(255,255,255,0)"}, {"offset": 0.34, "color": "rgba(255,255,255,0)"}, {"offset": 0.34, "color": "#fff"}, {"offset": 0.36, "color": "#fff"},
            {"offset": 0.36, "color": "rgba(255,255,255,0)"}, {"offset": 0.38, "color": "rgba(255,255,255,0)"}, {"offset": 0.38, "color": "#fff"}, {"offset": 0.4, "color": "#fff"},
            {"offset": 0.4, "color": "rgba(255,255,255,0)"}, {"offset": 0.42, "color": "rgba(255,255,255,0)"}, {"offset": 0.42, "color": "#fff"}, {"offset": 0.44, "color": "#fff"},
            {"offset": 0.44, "color": "rgba(255,255,255,0)"}, {"offset": 0.46, "color": "rgba(255,255,255,0)"}, {"offset": 0.46, "color": "#fff"}, {"offset": 0.48, "color": "#fff"},
            {"offset": 0.48, "color": "rgba(255,255,255,0)"}, {"offset": 0.5, "color": "rgba(255,255,255,0)"}, {"offset": 0.5, "color": "#fff"}, {"offset": 0.52, "color": "#fff"},
            {"offset": 0.52, "color": "rgba(255,255,255,0)"}, {"offset": 0.54, "color": "rgba(255,255,255,0)"}, {"offset": 0.54, "color": "#fff"}, {"offset": 0.56, "color": "#fff"},
            {"offset": 0.56, "color": "rgba(255,255,255,0)"}, {"offset": 0.58, "color": "rgba(255,255,255,0)"}, {"offset": 0.58, "color": "#fff"}, {"offset": 0.6, "color": "#fff"},
            {"offset": 0.6, "color": "rgba(255,255,255,0)"}, {"offset": 0.62, "color": "rgba(255,255,255,0)"}, {"offset": 0.62, "color": "#fff"}, {"offset": 0.64, "color": "#fff"},
            {"offset": 0.64, "color": "rgba(255,255,255,0)"}, {"offset": 0.66, "color": "rgba(255,255,255,0)"}, {"offset": 0.66, "color": "#fff"}, {"offset": 0.68, "color": "#fff"},
            {"offset": 0.68, "color": "rgba(255,255,255,0)"}, {"offset": 0.7, "color": "rgba(255,255,255,0)"}, {"offset": 0.7, "color": "#fff"}, {"offset": 0.72, "color": "#fff"},
            {"offset": 0.72, "color": "rgba(255,255,255,0)"}, {"offset": 0.74, "color": "rgba(255,255,255,0)"}, {"offset": 0.74, "color": "#fff"}, {"offset": 0.76, "color": "#fff"},
            {"offset": 0.76, "color": "rgba(255,255,255,0)"}, {"offset": 0.78, "color": "rgba(255,255,255,0)"}, {"offset": 0.78, "color": "#fff"}, {"offset": 0.8, "color": "#fff"},
            {"offset": 0.8, "color": "rgba(255,255,255,0)"}, {"offset": 0.82, "color": "rgba(255,255,255,0)"}, {"offset": 0.82, "color": "#fff"}, {"offset": 0.84, "color": "#fff"},
            {"offset": 0.84, "color": "rgba(255,255,255,0)"}, {"offset": 0.86, "color": "rgba(255,255,255,0)"}, {"offset": 0.86, "color": "#fff"}, {"offset": 0.88, "color": "#fff"},
            {"offset": 0.88, "color": "rgba(255,255,255,0)"}, {"offset": 0.9, "color": "rgba(255,255,255,0)"}, {"offset": 0.9, "color": "#fff"}, {"offset": 0.92, "color": "#fff"},
            {"offset": 0.92, "color": "rgba(255,255,255,0)"}, {"offset": 0.94, "color": "rgba(255,255,255,0)"}, {"offset": 0.94, "color": "#fff"}, {"offset": 0.96, "color": "#fff"},
            {"offset": 0.96, "color": "rgba(255,255,255,0)"}, {"offset": 0.98, "color": "rgba(255,255,255,0)"}, {"offset": 0.98, "color": "#fff"}, {"offset": 1, "color": "#fff"}
          ]}},
          "encoding": {
            "xOffset": {"field": "s", "type": "nominal", "scale": {"domain": ["5", "10", "control"], "paddingInner": 0, "paddingOuter": 0}},
            "y2": {"datum": 500}
          }
        },
        {
          "data": {"values": [{"tag": "(c)", "speed": "0.24", "v": 500}]},
          "mark": {"type": "text", "fontSize": 27, "fontWeight": "bold", "font": "Liberation Serif", "color": "black", "dx": 56, "dy": 15, "baseline": "middle", "align": "center"},
          "encoding": {"text": {"field": "tag"}}
        }
      ]
    }
  ]
}
